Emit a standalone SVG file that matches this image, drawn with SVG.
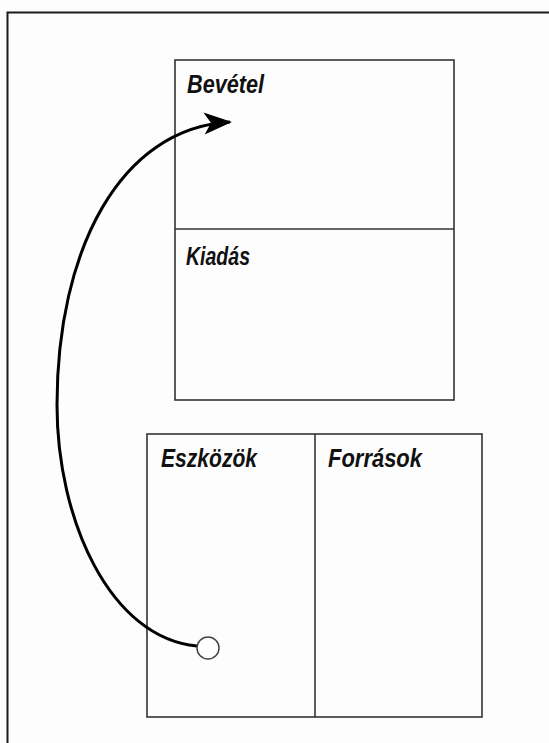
<svg xmlns="http://www.w3.org/2000/svg" width="549" height="743" viewBox="0 0 549 743">
  <style>
    .frame { fill: none; stroke: #1a1a1a; stroke-width: 2; }
    .box { fill: none; stroke: #333; stroke-width: 1.6; }
    .label { font-family: "Liberation Sans", Arial, sans-serif; font-style: italic; font-weight: bold; font-size: 26px; fill: #111; }
    .flow { fill: none; stroke: #000; stroke-width: 3; }
  </style>
  <defs>
    <marker id="arrow" viewBox="0 0 28 24" refX="26" refY="12" markerWidth="28" markerHeight="24" markerUnits="userSpaceOnUse" orient="auto">
      <path d="M0,1 L28,12 L0,23 L7,12 Z" fill="#000"/>
    </marker>
  </defs>
  <rect width="549" height="743" fill="#fdfdfd"/>
  <rect class="frame" x="7.5" y="12.5" width="560" height="760"/>

  <g id="income-statement">
    <rect class="box" x="175" y="60" width="279" height="340"/>
    <line class="box" x1="175" y1="229" x2="454" y2="229"/>
  </g>
  <g id="bevetel">
    <text class="label" x="187" y="93" textLength="77" lengthAdjust="spacingAndGlyphs">Bevétel</text>
  </g>
  <g id="kiadas">
    <text class="label" x="186" y="265" textLength="64" lengthAdjust="spacingAndGlyphs">Kiadás</text>
  </g>

  <g id="balance-sheet">
    <rect class="box" x="147" y="434" width="335" height="283"/>
    <line class="box" x1="315" y1="434" x2="315" y2="717"/>
  </g>
  <g id="eszkozok">
    <text class="label" x="161" y="467" textLength="96" lengthAdjust="spacingAndGlyphs">Eszközök</text>
  </g>
  <g id="forrasok">
    <text class="label" x="328" y="467" textLength="94" lengthAdjust="spacingAndGlyphs">Források</text>
  </g>

  <g id="connectors">
    <path class="flow" d="M197,646 C110,638 57,520 57,405 C57,250 120,128 230,122" marker-end="url(#arrow)"/>
  </g>
  <g id="start-point">
    <circle cx="208" cy="648" r="11" fill="#fff" stroke="#444" stroke-width="1.5"/>
  </g>
</svg>
